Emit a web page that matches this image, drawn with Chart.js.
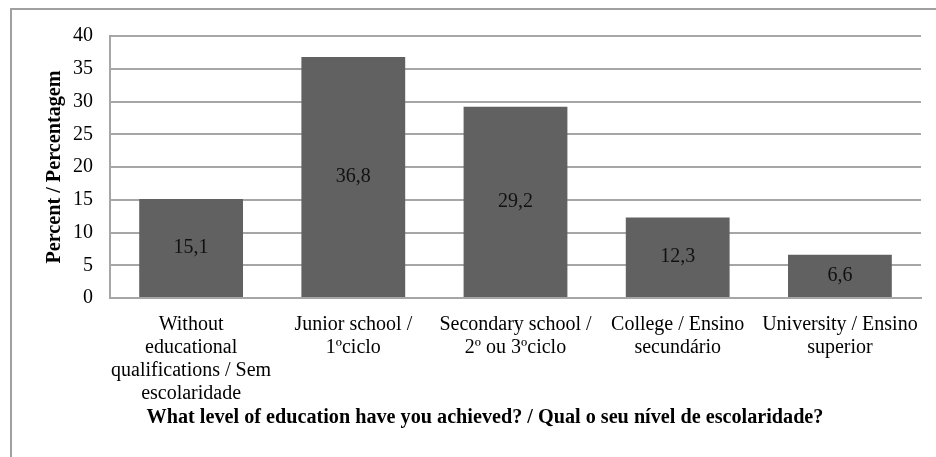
<!DOCTYPE html>
<html>
<head>
<meta charset="utf-8">
<script src="https://cdn.jsdelivr.net/npm/chart.js@4/dist/chart.umd.min.js"></script>
<style>
  html, body { margin: 0; padding: 0; background: #fff; overflow: hidden; width: 936px; height: 457px; }
  #frame { position: absolute; left: 10px; top: 8px; width: 1000px; height: 1000px; border: 2px solid #a0a0a0; }
  #eduChart { position: absolute; left: 0; top: 0; }
</style>
</head>
<body>
<div id="frame"></div>
<canvas id="eduChart" width="970" height="457"></canvas>
<script>
// Education level survey, percent of respondents
const levels = [
    ['Without', 'educational', 'qualifications / Sem', 'escolaridade'],
    ['Junior school /', '1ºciclo'],
    ['Secondary school /', '2º ou 3ºciclo'],
    ['College / Ensino', 'secundário'],
    ['University / Ensino', 'superior']
];
const percents = [15.1, 36.8, 29.2, 12.3, 6.6];
const yTicks = [0, 5, 10, 15, 20, 25, 30, 35, 40];

const serif = "'Liberation Serif', 'Times New Roman', serif";

// Writes the value in the middle of each bar, with a decimal comma
const barValueLabels = {
    id: 'barValueLabels',
    afterDatasetsDraw(chart) {
        const ctx = chart.ctx;
        const meta = chart.getDatasetMeta(0);
        ctx.save();
        ctx.font = '20px ' + serif;
        ctx.fillStyle = '#111';
        ctx.textAlign = 'center';
        ctx.textBaseline = 'middle';
        meta.data.forEach((bar, i) => {
            const txt = percents[i].toFixed(1).replace('.', ',');
            ctx.fillText(txt, bar.x, (bar.y + bar.base) / 2);
        });
        ctx.restore();
    }
};

const ctx = document.getElementById('eduChart').getContext('2d');
new Chart(ctx, {
    type: 'bar',
    data: {
        labels: levels,
        datasets: [{
            data: percents,
            backgroundColor: '#616161',
            borderWidth: 0,
            barPercentage: 0.64,
            categoryPercentage: 1
        }]
    },
    options: {
        responsive: false,
        animation: false,
        devicePixelRatio: 1,
        layout: { padding: { left: 49, right: 49, top: 36, bottom: 28.9 } },
        plugins: {
            legend: { display: false },
            tooltip: { enabled: false },
            title: {
                display: true,
                position: 'bottom',
                text: 'What level of education have you achieved? / Qual o seu nível de escolaridade?',
                color: '#000',
                font: { family: serif, size: 20.2, weight: 'bold', lineHeight: 1.0 },
                padding: { top: 0, bottom: 0 }
            }
        },
        scales: {
            x: {
                grid: { display: false, drawTicks: false },
                border: { display: true, color: '#a6a6a6', width: 2 },
                ticks: {
                    color: '#000',
                    font: { family: serif, size: 20, lineHeight: 1.15 },
                    padding: 15,
                    maxRotation: 0,
                    autoSkip: false
                },
                afterFit(scale) { scale.height = 109.9; }
            },
            y: {
                min: 0,
                max: 40,
                afterBuildTicks(scale) { scale.ticks = yTicks.map(v => ({ value: v })); },
                grid: { color: '#a6a6a6', lineWidth: 2, drawTicks: false },
                border: { display: true, color: '#a6a6a6', width: 2 },
                ticks: {
                    color: '#000',
                    font: { family: serif, size: 20 },
                    padding: 17
                },
                title: {
                    display: true,
                    text: 'Percent / Percentagem',
                    color: '#000',
                    font: { family: serif, size: 20.2, weight: 'bold', lineHeight: 1.0 },
                    padding: { top: -4.1, bottom: 0 }
                },
                afterFit(scale) { scale.width = 61; }
            }
        }
    },
    plugins: [barValueLabels]
});
</script>
</body>
</html>
